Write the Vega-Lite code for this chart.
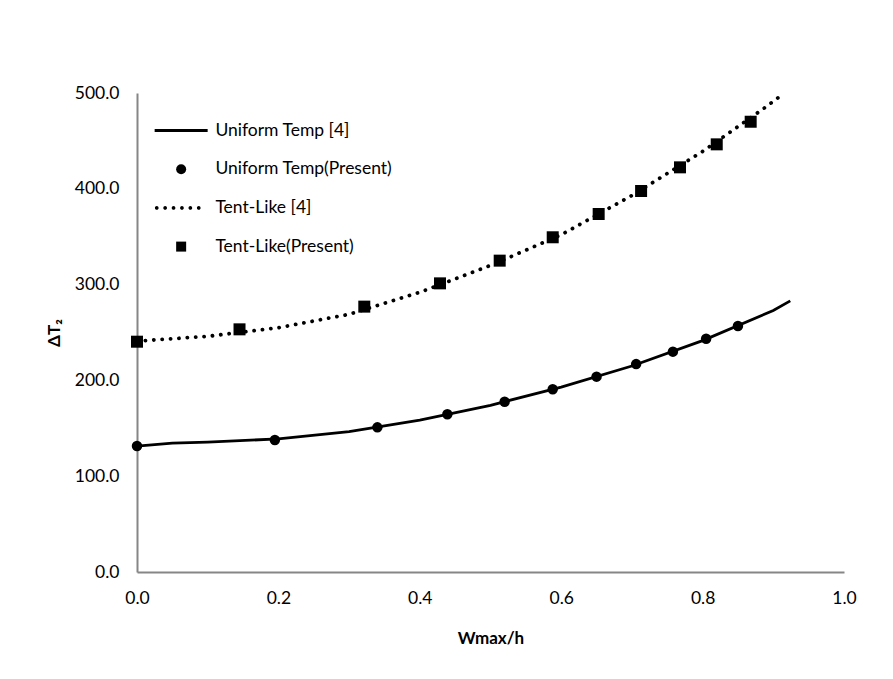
{
  "$schema": "https://vega.github.io/schema/vega-lite/v6.json",
  "autosize": "none",
  "width": 707,
  "height": 479,
  "padding": {"left": 137, "top": 93, "right": 49, "bottom": 107},
  "background": "white",
  "config": {
    "view": {"stroke": null},
    "font": "Lato",
    "axis": {"grid": false, "ticks": false, "labelFlush": false, "domainColor": "#868686", "domainWidth": 2, "labelFont": "Lato", "labelFontSize": 17.5, "labelColor": "#000000", "titleFont": "Lato", "titleFontSize": 17, "titleFontWeight": "bold", "titleColor": "#000000"},
    "legend": {"labelFont": "Lato", "labelFontSize": 17.5, "labelColor": "#000000", "labelLimit": 400}
  },
  "data": {"values": [
    {"series": "Uniform Temp [4]", "kind": "solid", "x": 0.0, "y": 131.5},
    {"series": "Uniform Temp [4]", "kind": "solid", "x": 0.05, "y": 134.5},
    {"series": "Uniform Temp [4]", "kind": "solid", "x": 0.1, "y": 135.5},
    {"series": "Uniform Temp [4]", "kind": "solid", "x": 0.2, "y": 139},
    {"series": "Uniform Temp [4]", "kind": "solid", "x": 0.3, "y": 146.5},
    {"series": "Uniform Temp [4]", "kind": "solid", "x": 0.4, "y": 158.5},
    {"series": "Uniform Temp [4]", "kind": "solid", "x": 0.5, "y": 174},
    {"series": "Uniform Temp [4]", "kind": "solid", "x": 0.6, "y": 193},
    {"series": "Uniform Temp [4]", "kind": "solid", "x": 0.7, "y": 215},
    {"series": "Uniform Temp [4]", "kind": "solid", "x": 0.8, "y": 241.5},
    {"series": "Uniform Temp [4]", "kind": "solid", "x": 0.9, "y": 273},
    {"series": "Uniform Temp [4]", "kind": "solid", "x": 0.924, "y": 283},
    {"series": "Uniform Temp(Present)", "kind": "circle", "x": 0.0, "y": 131.5},
    {"series": "Uniform Temp(Present)", "kind": "circle", "x": 0.195, "y": 137.8},
    {"series": "Uniform Temp(Present)", "kind": "circle", "x": 0.34, "y": 151},
    {"series": "Uniform Temp(Present)", "kind": "circle", "x": 0.439, "y": 164.6},
    {"series": "Uniform Temp(Present)", "kind": "circle", "x": 0.52, "y": 177.8},
    {"series": "Uniform Temp(Present)", "kind": "circle", "x": 0.588, "y": 190.7},
    {"series": "Uniform Temp(Present)", "kind": "circle", "x": 0.65, "y": 203.9},
    {"series": "Uniform Temp(Present)", "kind": "circle", "x": 0.706, "y": 217},
    {"series": "Uniform Temp(Present)", "kind": "circle", "x": 0.758, "y": 230},
    {"series": "Uniform Temp(Present)", "kind": "circle", "x": 0.805, "y": 243.5},
    {"series": "Uniform Temp(Present)", "kind": "circle", "x": 0.85, "y": 256.8},
    {"series": "Tent-Like [4]", "kind": "dotted", "x": 0.0, "y": 241},
    {"series": "Tent-Like [4]", "kind": "dotted", "x": 0.1, "y": 246},
    {"series": "Tent-Like [4]", "kind": "dotted", "x": 0.2, "y": 255},
    {"series": "Tent-Like [4]", "kind": "dotted", "x": 0.3, "y": 269},
    {"series": "Tent-Like [4]", "kind": "dotted", "x": 0.4, "y": 292},
    {"series": "Tent-Like [4]", "kind": "dotted", "x": 0.5, "y": 320},
    {"series": "Tent-Like [4]", "kind": "dotted", "x": 0.6, "y": 352},
    {"series": "Tent-Like [4]", "kind": "dotted", "x": 0.7, "y": 393},
    {"series": "Tent-Like [4]", "kind": "dotted", "x": 0.8, "y": 439},
    {"series": "Tent-Like [4]", "kind": "dotted", "x": 0.89, "y": 485.7},
    {"series": "Tent-Like [4]", "kind": "dotted", "x": 0.912, "y": 498},
    {"series": "Tent-Like(Present)", "kind": "square", "x": 0.0, "y": 240.4},
    {"series": "Tent-Like(Present)", "kind": "square", "x": 0.145, "y": 253.3},
    {"series": "Tent-Like(Present)", "kind": "square", "x": 0.3215, "y": 277},
    {"series": "Tent-Like(Present)", "kind": "square", "x": 0.4286, "y": 301.3},
    {"series": "Tent-Like(Present)", "kind": "square", "x": 0.513, "y": 325},
    {"series": "Tent-Like(Present)", "kind": "square", "x": 0.588, "y": 349.4},
    {"series": "Tent-Like(Present)", "kind": "square", "x": 0.653, "y": 373.7},
    {"series": "Tent-Like(Present)", "kind": "square", "x": 0.713, "y": 397.7},
    {"series": "Tent-Like(Present)", "kind": "square", "x": 0.768, "y": 422.4},
    {"series": "Tent-Like(Present)", "kind": "square", "x": 0.82, "y": 446.4},
    {"series": "Tent-Like(Present)", "kind": "square", "x": 0.868, "y": 470}
  ]},
  "encoding": {
    "x": {"field": "x", "type": "quantitative", "scale": {"domain": [0, 1], "nice": false}, "axis": {"title": "Wmax/h", "values": [0, 0.2, 0.4, 0.6, 0.8, 1.0], "format": ".1f", "labelPadding": 17, "titlePadding": 24}},
    "y": {"field": "y", "type": "quantitative", "scale": {"domain": [0, 500], "nice": false}, "axis": {"title": "ΔT₂", "values": [0, 100, 200, 300, 400, 500], "format": ".1f", "labelPadding": 18, "titlePadding": 11}}
  },
  "layer": [
    {
      "transform": [{"filter": "datum.kind == 'solid'"}],
      "mark": {"type": "line", "color": "black", "strokeWidth": 2.8},
      "encoding": {}
    },
    {
      "transform": [{"filter": "datum.kind == 'dotted'"}],
      "mark": {"type": "line", "color": "black", "strokeWidth": 3.8, "strokeCap": "round", "strokeDash": [0.1, 8.3]},
      "encoding": {}
    },
    {
      "transform": [{"filter": "datum.kind == 'circle'"}],
      "mark": {"type": "point", "filled": true, "opacity": 1, "color": "black", "size": 110, "strokeWidth": 0},
      "encoding": {
        "shape": {"field": "series", "type": "nominal",
          "scale": {"domain": ["Uniform Temp [4]", "Uniform Temp(Present)", "Tent-Like [4]", "Tent-Like(Present)"],
            "range": [
              "M-5.3,-0.28H5.3V0.28H-5.3Z",
              "circle",
              "M-5.25,0a0.37,0.37 0 1,0 0.74,0a0.37,0.37 0 1,0 -0.74,0M-3.57,0a0.37,0.37 0 1,0 0.74,0a0.37,0.37 0 1,0 -0.74,0M-1.89,0a0.37,0.37 0 1,0 0.74,0a0.37,0.37 0 1,0 -0.74,0M-0.21,0a0.37,0.37 0 1,0 0.74,0a0.37,0.37 0 1,0 -0.74,0M1.47,0a0.37,0.37 0 1,0 0.74,0a0.37,0.37 0 1,0 -0.74,0M3.15,0a0.37,0.37 0 1,0 0.74,0a0.37,0.37 0 1,0 -0.74,0",
              "square"]},
          "legend": {"title": null, "orient": "none", "legendX": 35.4, "legendY": 28.75, "rowPadding": 19.7, "labelOffset": 25.5, "symbolSize": 100, "symbolStrokeWidth": 0, "symbolFillColor": "black", "labelLimit": 400}}
      }
    },
    {
      "transform": [{"filter": "datum.kind == 'square'"}],
      "mark": {"type": "point", "filled": true, "opacity": 1, "color": "black", "size": 144, "strokeWidth": 0},
      "encoding": {
        "shape": {"field": "series", "type": "nominal"}
      }
    }
  ]
}
